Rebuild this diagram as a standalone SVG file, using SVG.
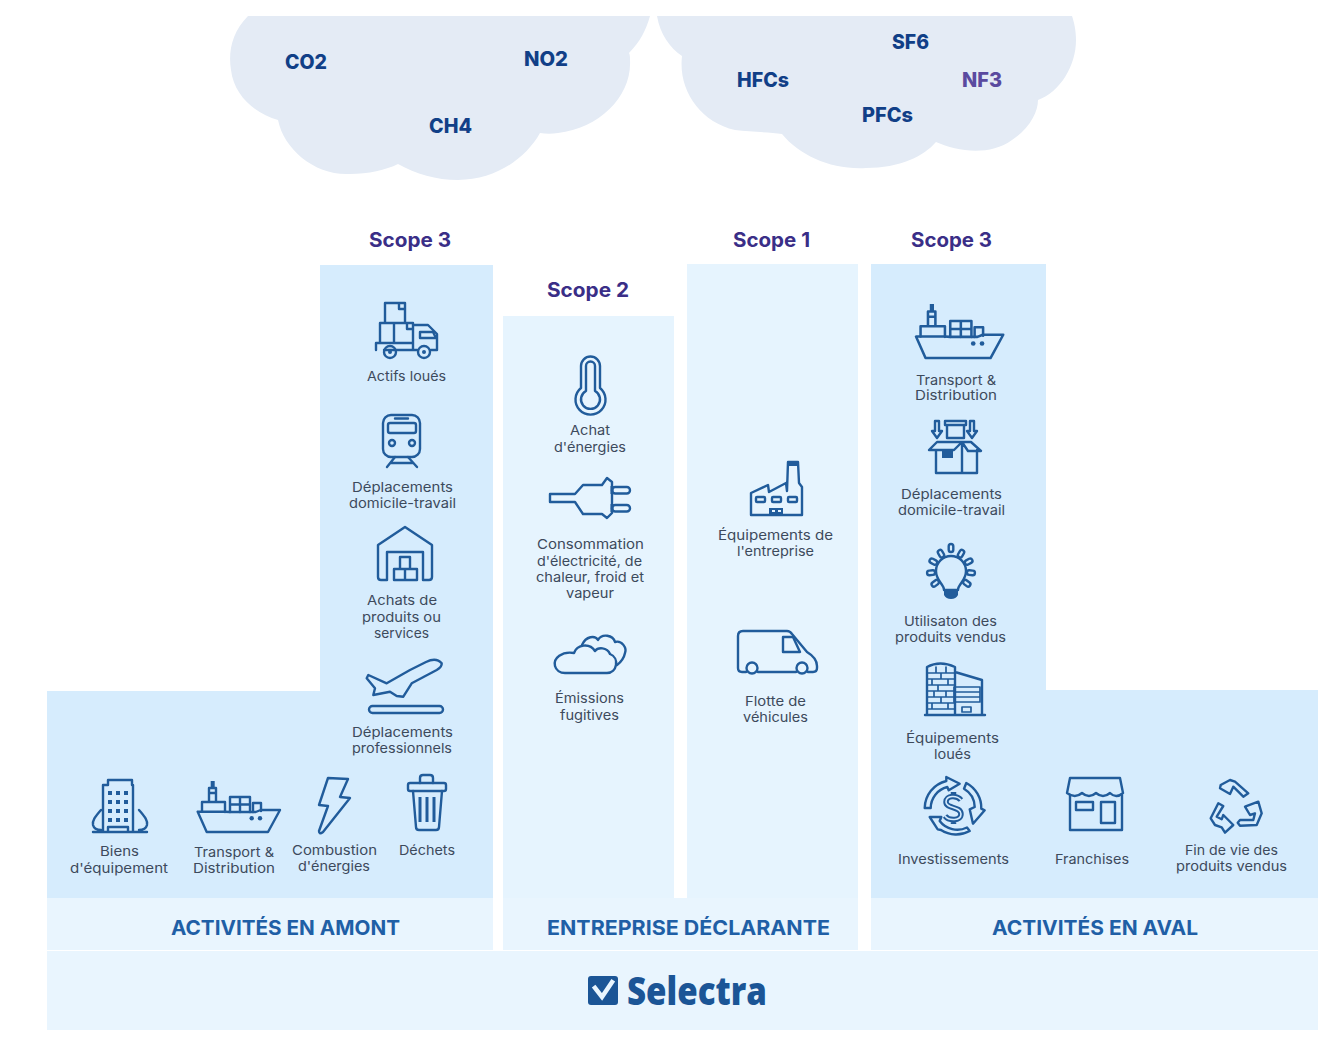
<svg xmlns="http://www.w3.org/2000/svg" width="1342" height="1042" viewBox="0 0 1342 1042">
<style>
.ic{fill:none;stroke:#215c9b;stroke-width:2.400;stroke-linejoin:round;stroke-linecap:round}
.dk{fill:#215c9b;stroke:none}
.band{fill:none;stroke:#215c9b;stroke-width:5.500;stroke-linecap:butt;stroke-linejoin:round}
.bandin{fill:none;stroke:#d6ecfd;stroke-width:1.600;stroke-linecap:butt;stroke-linejoin:round}
.lbl{font-family:"Inter","Liberation Sans",sans-serif;font-size:13.5px;fill:#3d4a5c}
.sc{font-family:"Inter","Liberation Sans",sans-serif;font-size:20px;font-weight:700;fill:#3a2e87}
.hd{font-family:"Inter","Liberation Sans",sans-serif;font-size:20px;font-weight:700;fill:#1f5fa6}
.gas{font-family:"Inter","Liberation Sans",sans-serif;font-size:20px;font-weight:800;fill:#113f87}
</style>
<defs>
<clipPath id="sky"><rect x="0" y="16" width="1342" height="300"/></clipPath>
<g id="ship">
<path class="ic" d="M0 30.700H27.300L32 31H58L63 29H82.300L70.300 51H9Z"/>
<path class="ic" d="M4.300 30.700V21H27.300V31M11.300 21V7H18.300V21M11.300 12H18.300M32.300 31V16H42.300V31M42.300 31V16H52.300V31M32.300 23.500H52.300M55.300 31V22H63.300V30"/>
<path class="dk" d="M13 0h4v7h-4z"/>
<circle class="dk" cx="54" cy="37.300" r="2.200"/><circle class="dk" cx="62.300" cy="37.300" r="2.200"/>
</g>
</defs>
<rect width="1342" height="1042" fill="#fff"/>

<g id="backgrounds">
<path fill="#d6ecfd" d="M47 691H320V265H493V898H47Z"/>
<path fill="#d6ecfd" d="M871 264H1046V690H1318V898H871Z"/>
<rect x="503" y="316" width="171" height="582" fill="#e6f4fe"/>
<rect x="687" y="264" width="171" height="634" fill="#e6f4fe"/>
<rect x="47" y="898" width="446" height="52" fill="#e9f5fe"/>
<rect x="503" y="898" width="355" height="52" fill="#e9f5fe"/>
<rect x="871" y="898" width="447" height="52" fill="#e9f5fe"/>
<rect x="47" y="951" width="1271" height="79" fill="#e9f5fe"/>
</g>

<g id="clouds" clip-path="url(#sky)" fill="#e4ebf5">
<g id="cloud-left">
<path d="M248 16C232 32 228 52 231 70C234 96 256 114 278 120C284 150 316 176 350 174C368 174 386 170 398 164C416 174 436 180 458 180C496 180 526 158 540 133C546 134 552 134 558 133C600 128 632 96 630 60C630 57 630 55 629 53C640 42 646 30 650 16Z"/>
</g>
<g id="cloud-right">
<path d="M657 16C660 34 670 48 682 56C678 90 700 122 735 130C750 132 770 132 782 134C800 156 832 170 866 168C900 168 924 156 936 142C958 152 990 156 1012 140C1030 128 1038 112 1038 100C1060 92 1076 66 1076 40C1076 30 1074 22 1072 16Z"/>
</g>
<text class="gas" x="285" y="69" textLength="42" lengthAdjust="spacingAndGlyphs">CO2</text>
<text class="gas" x="524" y="66" textLength="44" lengthAdjust="spacingAndGlyphs">NO2</text>
<text class="gas" x="429" y="133" textLength="43" lengthAdjust="spacingAndGlyphs">CH4</text>
<text class="gas" x="892" y="49" textLength="37" lengthAdjust="spacingAndGlyphs">SF6</text>
<text class="gas" x="737" y="87" textLength="52" lengthAdjust="spacingAndGlyphs">HFCs</text>
<text class="gas" x="962" y="87" textLength="40" lengthAdjust="spacingAndGlyphs" style="fill:#5a4a9f">NF3</text>
<text class="gas" x="862" y="122" textLength="51" lengthAdjust="spacingAndGlyphs">PFCs</text>
</g>

<g id="scope-titles">
<text class="sc" x="369" y="247" textLength="82" lengthAdjust="spacingAndGlyphs">Scope 3</text>
<text class="sc" x="547" y="297" textLength="82" lengthAdjust="spacingAndGlyphs">Scope 2</text>
<text class="sc" x="733" y="247" textLength="77" lengthAdjust="spacingAndGlyphs">Scope 1</text>
<text class="sc" x="911" y="247" textLength="81" lengthAdjust="spacingAndGlyphs">Scope 3</text>
</g>

<g id="actifs-loues">
<path class="ic" d="M385 323V303H405V323M399 303V309H405M380 343V323H413V343M394 323V343M407 323V329H413M413 325H428L437 334V350H431M417 350H413M376 350V343H413V350H384M396 350H417"/>
<path class="ic" d="M420 332H433L436 338H420Z"/>
<circle class="ic" cx="390" cy="352" r="6"/><circle class="dk" cx="390" cy="352" r="2"/>
<circle class="ic" cx="424" cy="352" r="6"/><circle class="dk" cx="424" cy="352" r="2"/>
<text class="lbl" x="367" y="381" textLength="79" lengthAdjust="spacingAndGlyphs">Actifs loués</text>
</g>
<g id="deplacements-domicile-amont">
<rect class="ic" x="383" y="415" width="37" height="42" rx="8"/>
<rect class="ic" x="388" y="423" width="28" height="10" rx="2"/>
<circle class="ic" cx="392" cy="443" r="3"/><circle class="ic" cx="412" cy="443" r="3"/>
<path class="ic" d="M395 418.500H408M395 457L387 467M408 457L417 467M391 463H413"/>
<text class="lbl" x="352" y="492" textLength="101" lengthAdjust="spacingAndGlyphs">Déplacements</text>
<text class="lbl" x="349" y="508" textLength="107" lengthAdjust="spacingAndGlyphs">domicile-travail</text>
</g>
<g id="achats-produits">
<path class="ic" d="M387 580H381Q378 580 378 577V545L405 527L432 545V577Q432 580 429 580H423V552H387Z"/>
<path class="ic" d="M400 557H410V569H400ZM394 569H417V580H394ZM405 569V580"/>
<text class="lbl" x="367" y="605" textLength="70" lengthAdjust="spacingAndGlyphs">Achats de</text>
<text class="lbl" x="362" y="622" textLength="79" lengthAdjust="spacingAndGlyphs">produits ou</text>
<text class="lbl" x="374" y="638" textLength="55" lengthAdjust="spacingAndGlyphs">services</text>
</g>
<g id="deplacements-pro">
<path class="ic" d="M441.700 663.300C438 659 432 659 426 662L410 670L386.700 683.300L368.300 675L366.700 678.300L375 688.300L373.300 695L390 691.700L396.700 696L403.300 696.700L411.700 683.300L436.700 670C440 668 442 666 441.700 663.300Z"/>
<rect class="ic" x="369" y="706" width="74" height="7" rx="3.500"/>
<text class="lbl" x="352" y="737" textLength="101" lengthAdjust="spacingAndGlyphs">Déplacements</text>
<text class="lbl" x="352" y="753" textLength="100" lengthAdjust="spacingAndGlyphs">professionnels</text>
</g>
<g id="biens-equipement">
<path class="ic" d="M103 832V785H108V780H132V785H133V832M93 832H147M101 810C96 816 92 820 93 825C94 829 97 830 101 830M139 810C144 816 148 820 147 825C146 829 143 830 139 830M108 832V827H128V832"/>
<path class="dk" d="M108 791h4v4h-4zM116 791h4v4h-4zM124 791h4v4h-4zM108 800h4v4h-4zM116 800h4v4h-4zM124 800h4v4h-4zM108 809h4v4h-4zM116 809h4v4h-4zM124 809h4v4h-4zM108 818h4v4h-4zM116 818h4v4h-4zM124 818h4v4h-4z"/>
<text class="lbl" x="100" y="856" textLength="39" lengthAdjust="spacingAndGlyphs">Biens</text>
<text class="lbl" x="70" y="873" textLength="98" lengthAdjust="spacingAndGlyphs">d'équipement</text>
</g>
<g id="transport-amont">
<use href="#ship" x="197.700" y="781"/>
<text class="lbl" x="194" y="857" textLength="80" lengthAdjust="spacingAndGlyphs">Transport &amp;</text>
<text class="lbl" x="193" y="873" textLength="82" lengthAdjust="spacingAndGlyphs">Distribution</text>
</g>
<g id="combustion">
<path class="ic" d="M328 778L348 779L340 797L350 798L323 832Q319 835 319 831L328 806L319 805Z"/>
<text class="lbl" x="292" y="855" textLength="85" lengthAdjust="spacingAndGlyphs">Combustion</text>
<text class="lbl" x="298" y="871" textLength="72" lengthAdjust="spacingAndGlyphs">d'énergies</text>
</g>
<g id="dechets">
<path class="ic" d="M420 783V778Q420 775 423 775H430Q433 775 433 778V783"/>
<rect class="ic" x="408" y="783" width="38" height="8" rx="2"/>
<path class="ic" d="M413 791L416 827Q416 830 419 830H436Q439 830 439 827L442 791"/>
<path class="dk" d="M418.500 797h3v25h-3zM425.500 797h3v25h-3zM432.500 797h3v25h-3z"/>
<text class="lbl" x="399" y="855" textLength="56" lengthAdjust="spacingAndGlyphs">Déchets</text>
</g>

<g id="achat-energies">
<path class="ic" d="M581 388V366a9.500 9.500 0 0 1 19 0V388a15 15 0 1 1 -19 0Z"/>
<path class="ic" d="M586 391V366a4.500 4.500 0 0 1 9 0V391a9.500 9.500 0 1 1 -9 0Z"/>
<text class="lbl" x="570" y="435" textLength="40" lengthAdjust="spacingAndGlyphs">Achat</text>
<text class="lbl" x="554" y="452" textLength="72" lengthAdjust="spacingAndGlyphs">d'énergies</text>
</g>
<g id="consommation">
<path class="ic" d="M550 494H575L583 485H602L607 478L612 482V513L607 518L602 514H583L575 502H550Z"/>
<rect class="ic" x="612" y="487" width="18" height="6.500" rx="3.200"/>
<rect class="ic" x="612" y="505" width="18" height="6.500" rx="3.200"/>
<path class="dk" d="M610.500 486h3v8h-3zM610.500 504h3v8h-3z"/>
<text class="lbl" x="537" y="549" textLength="107" lengthAdjust="spacingAndGlyphs">Consommation</text>
<text class="lbl" x="537" y="566" textLength="105" lengthAdjust="spacingAndGlyphs">d'électricité, de</text>
<text class="lbl" x="536" y="582" textLength="108" lengthAdjust="spacingAndGlyphs">chaleur, froid et</text>
<text class="lbl" x="566" y="598" textLength="48" lengthAdjust="spacingAndGlyphs">vapeur</text>
</g>
<g id="emissions-fugitives">
<path class="ic" d="M565 673H607C617 673 620 658 610 654C607 647 598 647 595 651C590 643 577 644 574 653C562 651 553 658 555 666C556 670 560 673 565 673Z"/>
<path class="ic" d="M582 645C586 636 595 635 598 640C602 633 613 635 615 642C622 640 627 648 625 653C624 658 621 662 617 665"/>
<text class="lbl" x="555" y="703" textLength="69" lengthAdjust="spacingAndGlyphs">Émissions</text>
<text class="lbl" x="560" y="720" textLength="59" lengthAdjust="spacingAndGlyphs">fugitives</text>
</g>

<g id="equipements-entreprise">
<path class="ic" d="M751 515V493L768 485L769 492L786 483L787 491L788 462H798L799 483L802 487V515Z"/>
<path class="dk" d="M789 461h9v5h-9z"/>
<rect class="ic" x="756" y="497" width="9" height="5" rx="1"/><rect class="ic" x="772" y="497" width="9" height="5" rx="1"/><rect class="ic" x="788" y="497" width="9" height="5" rx="1"/>
<path class="dk" d="M769 508h14v7h-14z"/><path fill="#e6f4fe" d="M772 510h3v2h-3zM778 510h3v2h-3z"/>
<text class="lbl" x="718" y="540" textLength="115" lengthAdjust="spacingAndGlyphs">Équipements de</text>
<text class="lbl" x="737" y="556" textLength="77" lengthAdjust="spacingAndGlyphs">l'entreprise</text>
</g>
<g id="flotte-vehicules">
<path class="ic" d="M746 672H742Q738 672 738 668V636Q738 631 743 631H787Q790 631 792 634L807 652Q817 658 817 666V668Q817 672 813 672H808M758 672H796"/>
<path class="ic" d="M783 637H793L800 652H783Z"/>
<circle class="ic" cx="752" cy="668" r="5.500"/><circle class="ic" cx="802" cy="668" r="5.500"/>
<text class="lbl" x="745" y="706" textLength="61" lengthAdjust="spacingAndGlyphs">Flotte de</text>
<text class="lbl" x="743" y="722" textLength="65" lengthAdjust="spacingAndGlyphs">véhicules</text>
</g>

<g id="transport-aval">
<use href="#ship" transform="translate(916 304) scale(1.060)"/>
<text class="lbl" x="916" y="385" textLength="80" lengthAdjust="spacingAndGlyphs">Transport &amp;</text>
<text class="lbl" x="915" y="400" textLength="82" lengthAdjust="spacingAndGlyphs">Distribution</text>
</g>
<g id="deplacements-domicile-aval">
<path class="ic" d="M945 421H966V425H945ZM947 425H964V438H947Z"/>
<path class="ic" d="M935 421H939V431H942L937 438L932 431H935ZM970 421H974V431H977L972 438L967 431H970Z"/>
<path class="ic" d="M936 450V473H977V450M929 450L937 442H971L981 451H968L962 442L954 450ZM962 442V473"/>
<path class="dk" d="M942 450h11v8h-11z"/>
<text class="lbl" x="901" y="499" textLength="101" lengthAdjust="spacingAndGlyphs">Déplacements</text>
<text class="lbl" x="898" y="515" textLength="107" lengthAdjust="spacingAndGlyphs">domicile-travail</text>
</g>
<g id="utilisation">
<path class="ic" d="M944 590C944 584 936 581 936 571a15 15 0 1 1 30 0C966 581 958 584 958 590Z"/>
<path class="dk" d="M944 590h14v5q-2 4 -7 4t-7 -4z"/>
<g class="ic">
<rect x="948.700" y="544" width="4.600" height="8" rx="2.300"/>
<rect x="948.700" y="547" width="4.600" height="8" rx="2.300" transform="rotate(30 951 571)"/>
<rect x="948.700" y="547" width="4.600" height="8" rx="2.300" transform="rotate(-30 951 571)"/>
<rect x="948.700" y="547" width="4.600" height="8" rx="2.300" transform="rotate(62 951 571)"/>
<rect x="948.700" y="547" width="4.600" height="8" rx="2.300" transform="rotate(-62 951 571)"/>
<rect x="948.700" y="547" width="4.600" height="8" rx="2.300" transform="rotate(95 951 571)"/>
<rect x="948.700" y="547" width="4.600" height="8" rx="2.300" transform="rotate(-95 951 571)"/>
<rect x="948.700" y="547" width="4.600" height="8" rx="2.300" transform="rotate(128 951 571)"/>
<rect x="948.700" y="547" width="4.600" height="8" rx="2.300" transform="rotate(-128 951 571)"/>
</g>
<text class="lbl" x="904" y="626" textLength="93" lengthAdjust="spacingAndGlyphs">Utilisaton des</text>
<text class="lbl" x="895" y="642" textLength="111" lengthAdjust="spacingAndGlyphs">produits vendus</text>
</g>
<g id="equipements-loues">
<path class="ic" d="M927 715V667Q940 660 955 667V715M955 672L982 680V715M925 715H985"/>
<path class="ic" d="M927 673H955M927 679H955M927 685H955M927 691H955M927 697H955M927 703H955M927 709H955M936 667V673M946 667V673M941 673V679M932 679V685M948 679V685M938 685V691M946 691V697M934 691V697M941 697V703M932 703V709M948 703V709" style="stroke-width:1.700"/>
<path class="ic" d="M954 687H980V692H954ZM954 692H980V697H954ZM954 697H980V702H954ZM962 707H971V712H962Z" style="stroke-width:1.700"/>
<text class="lbl" x="906" y="743" textLength="93" lengthAdjust="spacingAndGlyphs">Équipements</text>
<text class="lbl" x="934" y="759" textLength="37" lengthAdjust="spacingAndGlyphs">loués</text>
</g>
<g id="investissements">
<path class="ic" d="M924.700 808A28.300 28.300 0 0 1 946.300 781L946.300 777L959.700 783.700L948.700 790.300L947.300 787A21.700 21.700 0 0 0 930.700 808Z"/>
<path class="ic" d="M966.300 783A28.300 28.300 0 0 1 981.300 808.700L984.700 810.300L973 823.700L969.700 809.300L974.700 807A21.700 21.700 0 0 0 964 788.700Z"/>
<path class="ic" d="M929.700 817L941.300 817L939.700 821A22 22 0 0 0 967 827.500L969.700 831A28 28 0 0 1 941 830L937.700 829.300Z"/>
<path class="band" d="M961 800C957 795 946 795 946 802C946 809 961 806 961 814C961 821 949 821 945 816M953.500 792V797M953.500 818V824"/>
<path class="bandin" d="M961 800C957 795 946 795 946 802C946 809 961 806 961 814C961 821 949 821 945 816"/>
<text class="lbl" x="898" y="864" textLength="111" lengthAdjust="spacingAndGlyphs">Investissements</text>
</g>
<g id="franchises">
<path class="ic" d="M1070 778H1120L1123 793Q1116 799 1110 793Q1103 799 1096 793Q1089 799 1082 793Q1075 799 1067 793Z"/>
<path class="ic" d="M1070 795V830H1122V795"/>
<rect class="ic" x="1076" y="802" width="17" height="8"/>
<rect class="ic" x="1101" y="802" width="14" height="21"/>
<text class="lbl" x="1055" y="864" textLength="74" lengthAdjust="spacingAndGlyphs">Franchises</text>
</g>
<g id="fin-de-vie">
<path class="ic" d="M1220.700 785L1230 780L1235 781.700L1248.300 793.300L1243.300 796.700L1233.300 786.700L1230 794L1220 788.300Z"/>
<path class="ic" d="M1218.300 803.300L1223.300 806L1216.700 816.700L1221.700 819.300L1223.300 815L1233.300 825L1225 832.700L1221.700 827.300L1215 825L1210.700 818.300Z"/>
<path class="ic" d="M1240 820L1253.300 820L1255 813.300L1250 815L1245 806.700L1258.300 801.700L1261.700 813.300L1256.700 825L1240 825.700L1237.700 822.700Z"/>
<text class="lbl" x="1185" y="855" textLength="93" lengthAdjust="spacingAndGlyphs">Fin de vie des</text>
<text class="lbl" x="1176" y="871" textLength="111" lengthAdjust="spacingAndGlyphs">produits vendus</text>
</g>

<g id="sections">
<text class="hd" x="171" y="935" textLength="229" lengthAdjust="spacingAndGlyphs">ACTIVITÉS EN AMONT</text>
<text class="hd" x="547" y="935" textLength="283" lengthAdjust="spacingAndGlyphs">ENTREPRISE DÉCLARANTE</text>
<text class="hd" x="992" y="935" textLength="206" lengthAdjust="spacingAndGlyphs">ACTIVITÉS EN AVAL</text>
</g>

<g id="selectra-logo">
<rect x="588" y="976" width="30" height="29" rx="3" fill="#1b5596"/>
<path d="M595 988L602 997L612 982" fill="none" stroke="#e9f5fe" stroke-width="4.500" stroke-linecap="square"/>
<text x="627" y="1005" textLength="140" lengthAdjust="spacingAndGlyphs" style="font-family:'Open Sans','Liberation Sans',sans-serif;font-size:38px;font-weight:800;fill:#1b5596">Selectra</text>
</g>
</svg>
